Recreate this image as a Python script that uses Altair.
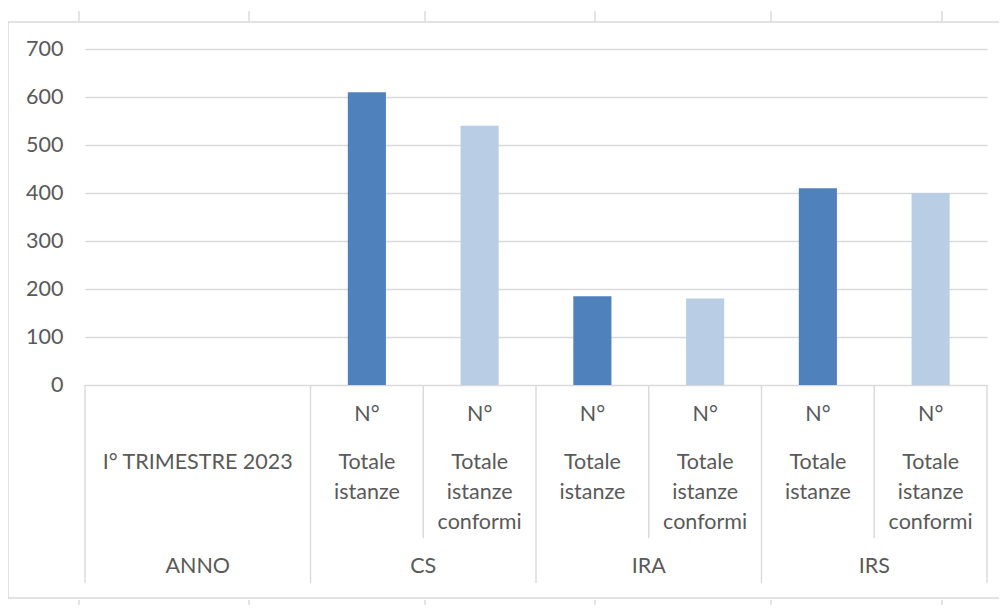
import altair as alt
import pandas as pd

# ---- data ----
groups = ["CS", "IRA", "IRS"]
measures = ["Totale istanze", "Totale istanze conformi"]
cs_values = [610, 540]
ira_values = [185, 180]
irs_values = [410, 400]
year_header = "ANNO"
year_label = "I° TRIMESTRE 2023"
unit_label = "N°"
y_ticks = [0, 100, 200, 300, 400, 500, 600, 700]
colors = ["#4F81BD", "#B9CDE5"]

FONT = "Lato"
FS = 21.5
TXT = "#595959"
GRID = "#D9D9D9"
W, H = 902, 336

# ---- tables ----
rows = []
for gi, (g, vals) in enumerate(zip(groups, [cs_values, ira_values, irs_values])):
    for mi, (m, v) in enumerate(zip(measures, vals)):
        rows.append(dict(group=g, measure=m, value=v, slot=2 + gi * 2 + mi))
bars_df = pd.DataFrame(rows)

labels = []
for r in rows:
    c = r["slot"] + 0.5
    labels.append(dict(text=unit_label, xc=c, row=0))
    for j, w in enumerate(r["measure"].split(" ")):
        labels.append(dict(text=w, xc=c, row=1 + j))
labels.append(dict(text=year_label, xc=1, row=1))
labels.append(dict(text=year_header, xc=1, row=4))
for gi, g in enumerate(groups):
    labels.append(dict(text=g, xc=3 + 2 * gi, row=4))
labels_df = pd.DataFrame(labels)
row_px = {0: 366, 1: 414, 2: 444, 3: 474, 4: 518}

div_df = pd.DataFrame(
    [dict(edge=e, kind="long") for e in [0, 2, 4, 6, 8]]
    + [dict(edge=e, kind="short") for e in [3, 5, 7]]
)

x_scale = alt.Scale(domain=[0, 8], nice=False, zero=False)
y_scale = alt.Scale(domain=[0, 700], nice=False)

bars = alt.Chart(bars_df).transform_calculate(
    x0="datum.slot + 0.331", x1="datum.slot + 0.669"
).mark_rect().encode(
    x=alt.X("x0:Q", scale=x_scale, axis=None),
    x2="x1:Q",
    y=alt.Y("value:Q", scale=y_scale,
            axis=alt.Axis(values=y_ticks, title=None, grid=True, gridColor=GRID,
                          gridWidth=1.4, ticks=False, domain=False,
                          labelFont=FONT, labelFontSize=FS, labelColor=TXT,
                          labelPadding=22)),
    y2=alt.datum(0),
    color=alt.Color("measure:N", scale=alt.Scale(domain=measures, range=colors),
                    legend=None),
)

layers = [bars]

for kind, yend in [("long", 534), ("short", 489)]:
    layers.append(
        alt.Chart(div_df).transform_filter(alt.datum.kind == kind)
        .mark_rule(color=GRID, strokeWidth=1.4)
        .encode(x=alt.X("edge:Q", scale=x_scale, axis=None),
                y=alt.value(H), y2=alt.value(yend))
    )

for rw, ypx in row_px.items():
    layers.append(
        alt.Chart(labels_df).transform_filter(alt.datum.row == rw)
        .mark_text(font=FONT, fontSize=FS, color=TXT, baseline="middle", align="center")
        .encode(x=alt.X("xc:Q", scale=x_scale, axis=None),
                y=alt.value(ypx), text="text:N")
    )

# chart-area frame and worksheet column marks (decoration)
layers.append(
    alt.Chart(bars_df).transform_filter("datum.slot == 2")
    .mark_rect(fill="transparent", stroke=GRID, strokeWidth=1.5).encode(
        x=alt.value(-77), x2=alt.value(940), y=alt.value(-27), y2=alt.value(549)
    )
)
for px in [-6, 164, 340, 510, 686, 857]:
    for y0, y1 in [(-38, -28), (551, 570)]:
        layers.append(
            alt.Chart(bars_df).transform_filter("datum.slot == 2")
            .mark_rule(color=GRID, strokeWidth=1.4)
            .encode(x=alt.value(px), y=alt.value(y0), y2=alt.value(y1))
        )

chart = alt.layer(*layers).properties(
    width=W, height=H,
    autosize=alt.AutoSizeParams(type="none"),
    padding={"left": 77, "top": 41, "right": 12, "bottom": 220},
    background="white",
).configure_view(strokeWidth=0, stroke="transparent")

chart.save("out.html", embed_options={"renderer": "svg", "actions": False})
